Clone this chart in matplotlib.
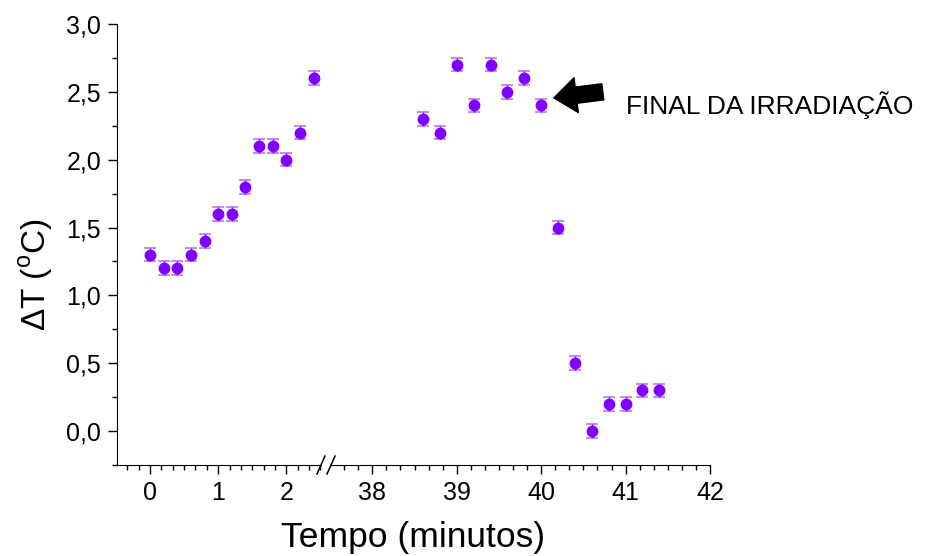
import numpy as np
import matplotlib.pyplot as plt
from matplotlib.ticker import MultipleLocator, FuncFormatter

plt.rcParams['font.family'] = ['Liberation Sans', 'DejaVu Sans']
plt.rcParams['mathtext.fontset'] = 'custom'
plt.rcParams['mathtext.rm'] = 'Liberation Sans'

# data (time in minutes, delta T in C)
t_start = [0.0, 0.2, 0.4, 0.6, 0.8, 1.0, 1.2, 1.4, 1.6, 1.8, 2.0, 2.2, 2.4]
dT_start = [1.3, 1.2, 1.2, 1.3, 1.4, 1.6, 1.6, 1.8, 2.1, 2.1, 2.0, 2.2, 2.6]
t_end = [38.6, 38.8, 39.0, 39.2, 39.4, 39.6, 39.8, 40.0, 40.2, 40.4, 40.6, 40.8, 41.0, 41.2, 41.4]
dT_end = [2.3, 2.2, 2.7, 2.4, 2.7, 2.5, 2.6, 2.4, 1.5, 0.5, 0.0, 0.2, 0.2, 0.3, 0.3]
err = 0.05

color = '#8000ff'

fig = plt.figure(figsize=(9.25, 5.56), dpi=100)
bottom = 1 - 465/556
height = (465 - 24)/556
ax1 = fig.add_axes([117/925, bottom, 204/925, height])
ax2 = fig.add_axes([331/925, bottom, 379/925, height])

def comma(v, pos):
    return ('%.1f' % v).replace('.', ',')

for ax, t, dT in [(ax1, t_start, dT_start), (ax2, t_end, dT_end)]:
    eb = ax.errorbar(t, dT, yerr=err, fmt='o', color=color, markersize=7.5,
                     ecolor=color, elinewidth=1.0, capsize=4.5, capthick=1.2,
                     clip_on=False, zorder=3)
    for cap in eb[1]:
        cap.set_alpha(0.55)
    ax.set_ylim(-0.25, 3.0)
    ax.spines['top'].set_visible(False)
    ax.spines['right'].set_visible(False)
    ax.tick_params(which='major', direction='out', length=6.5, width=1, labelsize=18, pad=5)
    ax.tick_params(which='minor', direction='out', length=3.6, width=1)
    ax.xaxis.set_minor_locator(MultipleLocator(1/6))
    ax.set_facecolor('none')

ax1.set_xlim(-0.485, 2.51)
ax1.set_xticks([0, 1, 2])
ax1.yaxis.set_major_locator(MultipleLocator(0.5))
ax1.yaxis.set_minor_locator(MultipleLocator(0.25))
ax1.yaxis.set_major_formatter(FuncFormatter(comma))

ax2.set_xlim(37.51, 42)
ax2.set_xticks([38, 39, 40, 41, 42])
ax2.spines['left'].set_visible(False)
ax2.tick_params(axis='y', which='both', left=False, labelleft=False)

# break marks on the x axis
yb = 1 - 465/556
for xp in [321, 331]:
    fig.add_artist(plt.Line2D([(xp - 4)/925, (xp + 4)/925],
                              [yb - 9/556, yb + 9/556],
                              transform=fig.transFigure, color='k', lw=1.1))

# arrow and note
ax2.annotate('', xy=(40.15, 2.455), xytext=(40.73, 2.5),
             arrowprops=dict(arrowstyle='simple,head_width=1.4,head_length=0.9,tail_width=0.65',
                             fc='k', ec='k', mutation_scale=18, shrinkA=0, shrinkB=0))
ax2.text(41.0, 2.4, 'FINAL DA IRRADIAÇÃO', fontsize=19, va='center', ha='left')

fig.text(413/925, 1 - 538/556, 'Tempo (minutos)', fontsize=25.5, ha='center', va='center')
fig.text(36/925, 1 - 275/556, r'ΔT ($^{\rm o}$C)', fontsize=24, ha='center',
         va='center', rotation=90)

fig.savefig('out.png', dpi=100)
